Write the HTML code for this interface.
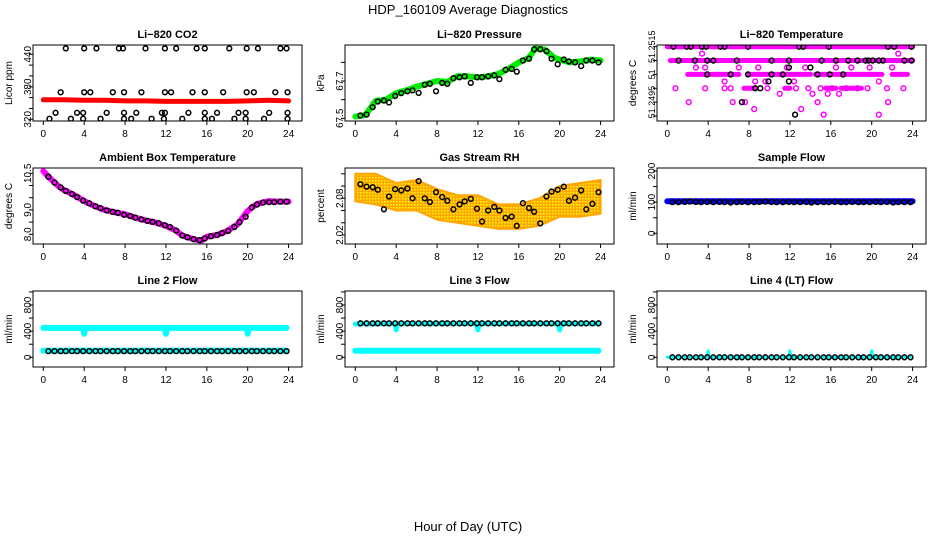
<!DOCTYPE html>
<html><head><meta charset="utf-8"><style>
html,body{margin:0;padding:0;background:#fff;}
svg{display:block;font-family:"Liberation Sans",sans-serif;}
</style></head><body>
<svg id="chart" xmlns="http://www.w3.org/2000/svg" width="936" height="540" viewBox="0 0 936 540">
<defs>
<pattern id="rhdots" width="3" height="3" patternUnits="userSpaceOnUse"><rect width="3" height="3" fill="#ffa500"/><rect x="0" y="0" width="1.5" height="1.5" fill="#ffff00"/></pattern>
</defs>
<text x="468" y="14" text-anchor="middle" font-size="13">HDP_160109  Average Diagnostics</text>
<text x="468" y="531" text-anchor="middle" font-size="13">Hour of Day (UTC)</text>
</svg>
<script>
// ---- shared hours for averaged (black) points ----
const avgHours = [0.5,1.1,1.7,2.2,2.8,3.3,3.9,4.5,5.1,5.6,6.2,6.8,7.3,7.9,8.5,9.0,9.6,10.2,10.7,11.3,11.9,12.4,13.0,13.6,14.1,14.7,15.3,15.8,16.4,17.0,17.5,18.1,18.7,19.2,19.8,20.4,20.9,21.5,22.1,22.6,23.2,23.8];
const xTicks = [0,4,8,12,16,20,24];

// Panel 1: CO2
const co2TraceHours = [0,2,4,6,8,10,12,14,16,18,20,22,24];
const co2TraceVals = [356,356,355,355,354,354,353,353,353,353,354,355,354];
const co2Hours = [2.2,4,5.2,7.4,7.8,10,11.9,13,15,15.8,18.2,19.9,21,23.2,23.8, 1.7,4,4.6,6.8,7.9,9.6,11.9,12.5,14.6,15.8,17.6,19.9,20.6,22.7,23.9, 1.2,3.3,3.9,6.2,7.9,9.1,11.6,11.9,14.2,15.8,17,19.1,19.8,22.1,23.9, 0.6,2.7,3.9,5.6,7.9,8.6,10.6,11.8,13.6,15.8,16.5,18.7,19.8,21.6,23.9];
const co2Vals = [451,451,451,451,451,451,451,451,451,451,451,451,451,451,451, 370,370,370,370,370,370,370,370,370,370,370,370,370,370,370, 332,332,332,332,332,332,332,332,332,332,332,332,332,332,332, 321,321,321,321,321,321,321,321,321,321,321,321,321,321,321];

// Panel 2: Pressure
const presTraceHours = [0,1,2,3,4,5,6,7,8,9,10,11,12,13,14,15,16,17,17.6,18.5,19.5,20,21,22,23,24];
const presTraceVals = [67.509,67.518,67.594,67.6,67.635,67.65,67.67,67.685,67.70,67.695,67.725,67.725,67.72,67.725,67.738,67.766,67.80,67.824,67.875,67.87,67.824,67.815,67.80,67.805,67.815,67.81];
const presVals = [67.515,67.52,67.56,67.59,67.595,67.585,67.62,67.635,67.645,67.65,67.636,67.68,67.685,67.645,67.69,67.685,67.715,67.72,67.725,67.69,67.72,67.72,67.725,67.73,67.71,67.76,67.765,67.75,67.81,67.82,67.87,67.87,67.86,67.82,67.79,67.815,67.805,67.8,67.78,67.81,67.81,67.8];

// Panel 3: Li-820 Temperature
const tempBandStart = [0,0.3,2,5,8,14.5,22,7.5,11.5,15.5,17];
const tempBandEnd = [24,24,5,7,14,21,23.5,8.5,12,16.5,19];
const tempBandVals = [51.2515,51.251,51.2505,51.2505,51.2505,51.2505,51.2505,51.25,51.25,51.25,51.25];
const tempRawHours = [3.4,22.6,2.8,3.7,7,8.9,11.7,13.5,16.5,18,19.8,22,5.6,8.6,9.6,12.4,20.7,0.8,3.7,5.6,6.2,9.8,12.6,13.8,15,16.1,17.5,18.6,19.6,21.5,23.1,11,14.2,15.7,16.8,2.1,6.4,7.6,14.7,21.6,8.5,13.1,15.3,20.7];
const tempRawVals = [51.25125,51.25125,51.25075,51.25075,51.25075,51.25075,51.25075,51.25075,51.25075,51.25075,51.25075,51.25075,51.25025,51.25025,51.25025,51.25025,51.25025,51.25,51.25,51.25,51.25,51.25,51.25,51.25,51.25,51.25,51.25,51.25,51.25,51.25,51.25,51.2498,51.2498,51.2498,51.2498,51.2495,51.2495,51.2495,51.2495,51.2495,51.24925,51.24925,51.24905,51.24905];
const tempAvgHours = [0.6,1.9,2.3,3.4,3.8,5.2,5.6,7.9,12.9,13.3,15.8,21.6,22.2,23.9,1.1,2.7,3.9,4.5,6.8,10.2,11.9,15.1,16.5,17.7,18.6,19.4,19.7,20.1,20.7,21.1,23.2,23.9,11.9,14,3.9,6.2,7.9,10.2,11.3,14.7,15.9,17.2,9.9,11.9,8.6,9.1,7.3,12.5];
const tempAvgVals = [51.2515,51.2515,51.2515,51.2515,51.2515,51.2515,51.2515,51.2515,51.2515,51.2515,51.2515,51.2515,51.2515,51.2515,51.251,51.251,51.251,51.251,51.251,51.251,51.251,51.251,51.251,51.251,51.251,51.251,51.251,51.251,51.251,51.251,51.251,51.251,51.25075,51.25075,51.2505,51.2505,51.2505,51.2505,51.2505,51.2505,51.2505,51.2505,51.25025,51.25025,51.25,51.25,51.2495,51.24905];

// Panel 4: Ambient Box Temperature
const ambTraceHours = [0,0.5,1,1.5,2,3,4,5,6,7,8,9,10,11,12,13,13.5,14,15,15.5,16,17,18,19,19.5,20,20.5,21,22,23,24];
const ambTraceVals = [10.59,10.36,10.16,9.97,9.82,9.61,9.36,9.16,9.0,8.9,8.82,8.68,8.57,8.48,8.35,8.15,7.97,7.89,7.77,7.75,7.9,7.97,8.14,8.41,8.68,8.95,9.13,9.25,9.36,9.34,9.34];
const ambVals = [10.36,10.12,9.92,9.78,9.65,9.53,9.38,9.27,9.15,9.07,8.98,8.92,8.88,8.8,8.75,8.68,8.61,8.55,8.51,8.45,8.37,8.3,8.15,7.95,7.88,7.8,7.76,7.83,7.92,7.97,8.05,8.14,8.3,8.5,8.72,9.1,9.22,9.3,9.32,9.32,9.34,9.34];

// Panel 5: Gas Stream RH
const rhBandHours = [0,2,4,6,8,10,12,14,16,18,20,22,24];
const rhUpper = [2.12,2.12,2.105,2.11,2.095,2.085,2.085,2.07,2.07,2.08,2.10,2.105,2.11];
const rhLower = [2.075,2.07,2.06,2.06,2.045,2.04,2.035,2.03,2.03,2.035,2.05,2.05,2.055];
const rhVals = [2.103,2.099,2.098,2.094,2.062,2.083,2.095,2.093,2.096,2.08,2.108,2.08,2.074,2.09,2.082,2.076,2.062,2.07,2.075,2.079,2.063,2.042,2.06,2.066,2.06,2.048,2.05,2.035,2.072,2.064,2.058,2.039,2.083,2.091,2.094,2.099,2.076,2.081,2.093,2.062,2.071,2.09];

// Panel 6: Sample Flow
const sfTraceHours = [0,24];
const sfTraceVals = [103,103];
const sfVals = [100,100,101,102,101,100,101,100,101,100,99,100,101,100,100,101,102,101,100,100,101,100,100,101,99,100,100,100,101,100,100,101,100,100,100,101,100,101,99,100,100,100];

// Panel 7: Line 2 Flow
const l2HiHours = [0,3.9,4,4.1,11.9,12,12.1,19.9,20,20.1,23.8];
const l2HiVals = [450,450,360,450,450,360,450,450,360,450,450];
const l2LoHours = [0,23.8];
const l2LoVals = [100,100];
const l2Vals = [95,95,95,95,95,95,95,95,95,95,95,95,95,95,95,95,95,95,95,95,95,95,95,95,95,95,95,95,95,95,95,95,95,95,95,95,95,95,95,95,95,95];

// Panel 8: Line 3 Flow
const l3HiHours = [0,3.9,4,4.1,11.9,12,12.1,19.9,20,20.1,23.8];
const l3HiVals = [510,515,420,515,515,420,515,515,420,515,515];
const l3LoHours = [0,23.8];
const l3LoVals = [100,100];
const l3Vals = [520,520,520,520,520,520,520,520,520,520,520,520,520,520,520,520,520,520,520,520,520,520,520,520,520,520,520,520,520,520,520,520,520,520,520,520,520,520,520,520,520,520];

// Panel 9: Line 4 (LT) Flow
const l4TraceHours = [0,3.9,4,4.1,11.9,12,12.1,19.9,20,20.1,23.8];
const l4TraceVals = [0,0,100,0,0,100,0,0,100,0,0];
const l4Vals = [0,0,0,0,0,0,0,0,0,0,0,0,0,0,0,0,0,0,0,0,0,0,0,0,0,0,0,0,0,0,0,0,0,0,0,0,0,0,0,0,0,0];

const NS = "http://www.w3.org/2000/svg";
const svg = document.getElementById('chart');
function mk(tag, attrs, parent) {
  const el = document.createElementNS(NS, tag);
  for (const k in attrs) el.setAttribute(k, attrs[k]);
  (parent || svg).appendChild(el);
  return el;
}
const rowTops = [45,168,291];
const PH = 76;

function makePanel(cfg) {
  const cx = cfg.col * 312, ty = rowTops[cfg.row];
  const g = mk('g', {});
  
  
  const xs = h => 43.3 + cx + h * 10.22;
  const ys = v => ty + cfg.y0 + (v - cfg.v0) * (cfg.y1 - cfg.y0) / (cfg.v1 - cfg.v0);
  const t = mk('text', {x: 167.5 + cx, y: ty - 7, 'text-anchor': 'middle', 'font-size': 11, 'font-weight': 'bold'}, g);
  t.textContent = cfg.title;
  
  
  const yt = mk('text', {x: 12 + cx, y: ty + PH / 2, 'text-anchor': 'middle', 'font-size': 10, transform: 'rotate(-90 ' + (12 + cx) + ' ' + (ty + PH / 2) + ')'}, g);
  yt.textContent = cfg.ylab;
  
  
  const xa = mk('g', {}, g);
  
  
  xTicks.forEach(h => {
    mk('line', {x1: xs(h), x2: xs(h), y1: ty + PH, y2: ty + PH + 4, stroke: '#000', 'stroke-width': 1}, xa);
    const lt = mk('text', {x: xs(h), y: ty + PH + 16, 'text-anchor': 'middle', 'font-size': 10}, xa);
    lt.textContent = h;
  });
  const ya = mk('g', {}, g);
  
  
  mk('line', {x1: 33 + cx, x2: 33 + cx, y1: ys(cfg.ticks[0]), y2: ys(cfg.ticks[cfg.ticks.length - 1]), stroke: '#000'}, ya);
  const fs = cfg.labelSize || 10;
  cfg.ticks.forEach((v, i) => {
    const y = ys(v);
    mk('line', {x1: 29 + cx, x2: 33 + cx, y1: y, y2: y, stroke: '#000', 'stroke-width': 1}, ya);
    if (cfg.labels[i] !== '') {
      const lt = mk('text', {x: 31 + cx, y: y, 'text-anchor': 'middle', 'font-size': fs, transform: 'rotate(-90 ' + (31 + cx) + ' ' + y + ')'}, ya);
      lt.textContent = cfg.labels[i];
    }
  });
  const clipId = 'clip' + cfg.name;
  const cp = mk('clipPath', {id: clipId}, g);
  mk('rect', {x: 33 + cx, y: ty, width: 269, height: PH}, cp);
  const plot = mk('g', {'clip-path': 'url(#' + clipId + ')'}, g);
  
  
  cfg.draw(plot, xs, ys);
  const box = mk('rect', {x: 33 + cx, y: ty, width: 269, height: PH, fill: 'none', stroke: '#000', 'stroke-width': 1}, g);
  
  
}

function trace(parent, xs, ys, hours, vals, color, name, w) {
  const pts = hours.map((h, i) => xs(h).toFixed(1) + ',' + ys(vals[i]).toFixed(1)).join(' ');
  const pl = mk('polyline', {points: pts, fill: 'none', stroke: color, 'stroke-width': w || 6, 'stroke-linejoin': 'round', 'stroke-linecap': 'round'}, parent);
  
  
}
function points(parent, xs, ys, hours, vals, color, name) {
  const gg = mk('g', {}, parent);
  
  
  hours.forEach((h, i) => {
    const c = mk('circle', {cx: xs(h), cy: ys(vals[i]), r: 2.4, fill: 'none', stroke: color, 'stroke-width': 1.5}, gg);
    
    
  });
}

makePanel({name: 'co2', title: 'Li\u2212820 CO2', ylab: 'Licor ppm', row: 0, col: 0, v0: 320, y0: 74.3, v1: 440, y1: 9.3,
  ticks: [320,340,360,380,400,420,440], labels: ['320','','','380','','','440'],
  draw: (p, xs, ys) => { trace(p, xs, ys, co2TraceHours, co2TraceVals, '#ff0000', 'co2-raw-trace', 5); points(p, xs, ys, co2Hours, co2Vals, '#000', 'co2-average'); }});
makePanel({name: 'pressure', title: 'Li\u2212820 Pressure', ylab: 'kPa', row: 0, col: 1, v0: 67.5, y0: 73.3, v1: 67.7, y1: 36,
  ticks: [67.5,67.6,67.7,67.8], labels: ['67.5','','67.7',''],
  draw: (p, xs, ys) => { trace(p, xs, ys, presTraceHours, presTraceVals, '#00ee00', 'pressure-raw-trace', 6); points(p, xs, ys, avgHours, presVals, '#000', 'pressure-average'); }});
makePanel({name: 'li820-temp', title: 'Li\u2212820 Temperature', ylab: 'degrees C', row: 0, col: 2, v0: 51.2515, y0: 1.7, v1: 51.249, y1: 71,
  ticks: [51.2515,51.251,51.2505,51.25,51.2495,51.249], labels: ['51.2515','','51','','51.2495',''], labelSize: 9,
  draw: (p, xs, ys) => {
    const bg = mk('g', {}, p);
    
    
    tempBandStart.forEach((s, i) => {
      const l = mk('line', {x1: xs(s), x2: xs(tempBandEnd[i]), y1: ys(tempBandVals[i]), y2: ys(tempBandVals[i]), stroke: '#ff00ff', 'stroke-width': 5, 'stroke-linecap': 'round'}, bg);
      
      
    });
    points(p, xs, ys, tempRawHours, tempRawVals, '#ff00ff', 'li820-temp-raw');
    points(p, xs, ys, tempAvgHours, tempAvgVals, '#000', 'li820-temp-average');
  }});
makePanel({name: 'ambient-temp', title: 'Ambient Box Temperature', ylab: 'degrees C', row: 1, col: 0, v0: 10.5, y0: 5.3, v1: 8.0, y1: 66.3,
  ticks: [8.0,8.5,9.0,9.5,10.0,10.5], labels: ['8.0','','9.0','','','10.5'],
  draw: (p, xs, ys) => { trace(p, xs, ys, ambTraceHours, ambTraceVals, '#ff00ff', 'ambient-temp-raw-trace', 6); points(p, xs, ys, avgHours, ambVals, '#000', 'ambient-temp-average'); }});
makePanel({name: 'rh', title: 'Gas Stream RH', ylab: 'percent', row: 1, col: 1, v0: 2.02, y0: 67, v1: 2.08, y1: 30.3,
  ticks: [2.02,2.04,2.06,2.08,2.10,2.12], labels: ['2.02','','','2.08','',''],
  draw: (p, xs, ys) => {
    const up = rhBandHours.map((h, i) => xs(h).toFixed(1) + ',' + ys(rhUpper[i]).toFixed(1));
    const lo = rhBandHours.map((h, i) => xs(h).toFixed(1) + ',' + ys(rhLower[i]).toFixed(1)).reverse();
    const poly = mk('polygon', {points: up.concat(lo).join(' '), fill: 'url(#rhdots)', stroke: '#ffa500', 'stroke-width': 2}, p);
    
    
    points(p, xs, ys, avgHours, rhVals, '#000', 'rh-average');
  }});
makePanel({name: 'sample-flow', title: 'Sample Flow', ylab: 'ml/min', row: 1, col: 2, v0: 0, y0: 65.3, v1: 200, y1: 3,
  ticks: [0,50,100,150,200], labels: ['0','','100','','200'],
  draw: (p, xs, ys) => { trace(p, xs, ys, sfTraceHours, sfTraceVals, '#0000ff', 'sample-flow-raw-trace', 6); points(p, xs, ys, avgHours, sfVals, '#000', 'sample-flow-average'); }});
makePanel({name: 'line2-flow', title: 'Line 2 Flow', ylab: 'ml/min', row: 2, col: 0, v0: 0, y0: 66.3, v1: 800, y1: 14,
  ticks: [0,200,400,600,800,1000], labels: ['0','','400','','800',''],
  draw: (p, xs, ys) => { trace(p, xs, ys, l2HiHours, l2HiVals, '#00ffff', 'line2-flow-raw-high', 6); trace(p, xs, ys, l2LoHours, l2LoVals, '#00ffff', 'line2-flow-raw-low', 6); points(p, xs, ys, avgHours, l2Vals, '#000', 'line2-flow-average'); }});
makePanel({name: 'line3-flow', title: 'Line 3 Flow', ylab: 'ml/min', row: 2, col: 1, v0: 0, y0: 66.3, v1: 800, y1: 14,
  ticks: [0,200,400,600,800,1000], labels: ['0','','400','','800',''],
  draw: (p, xs, ys) => { trace(p, xs, ys, l3LoHours, l3LoVals, '#00ffff', 'line3-flow-raw-low', 6); trace(p, xs, ys, l3HiHours, l3HiVals, '#00ffff', 'line3-flow-raw-high', 5); points(p, xs, ys, avgHours, l3Vals, '#000', 'line3-flow-average'); }});
makePanel({name: 'line4-flow', title: 'Line 4 (LT) Flow', ylab: 'ml/min', row: 2, col: 2, v0: 0, y0: 66.3, v1: 800, y1: 14,
  ticks: [0,200,400,600,800,1000], labels: ['0','','400','','800',''],
  draw: (p, xs, ys) => { trace(p, xs, ys, l4TraceHours, l4TraceVals, '#00ffff', 'line4-flow-raw-trace', 3); points(p, xs, ys, avgHours, l4Vals, '#000', 'line4-flow-average'); }});
</script>
</body></html>
